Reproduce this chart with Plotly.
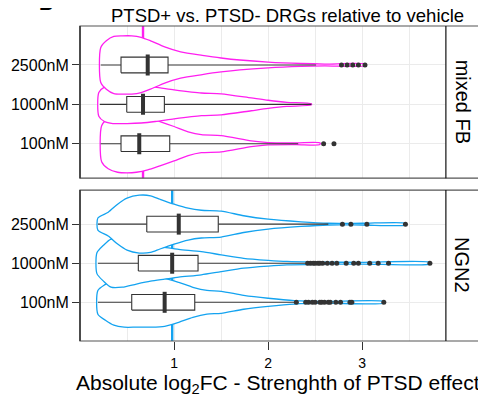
import plotly.graph_objects as go

doses = ["100nM", "1000nM", "2500nM"]
dose_pos = [1, 2, 3]

# box statistics (order: 100nM, 1000nM, 2500nM)
fb_q1 = [0.436, 0.497, 0.436]
fb_med = [0.63, 0.67, 0.72]
fb_q3 = [0.954, 0.897, 0.936]
fb_lo = [0.22, 0.21, 0.22]
fb_hi = [2.32, 2.46, 2.51]
fb_out_100 = [2.59, 2.70]
fb_out_1000 = []
fb_out_2500 = [2.78, 2.84, 2.90, 2.96, 3.03]

ngn_q1 = [0.55, 0.62, 0.71]
ngn_med = [0.90, 0.98, 1.05]
ngn_q3 = [1.22, 1.255, 1.47]
ngn_lo = [0.19, 0.19, 0.19]
ngn_hi = [2.28, 2.40, 2.64]
ngn_out_100 = [2.30, 2.40, 2.43, 2.47, 2.50, 2.55, 2.57, 2.60, 2.64, 2.66,
               2.72, 2.77, 2.87, 2.89, 3.23]
ngn_out_1000 = [2.42, 2.45, 2.48, 2.50, 2.53, 2.55, 2.58, 2.63, 2.68, 2.73,
                2.83, 2.91, 2.96, 3.08, 3.17, 3.28, 3.72]
ngn_out_2500 = [2.79, 2.88, 3.05, 3.46]

# reference lines (vehicle)
fb_ref = 0.67
ngn_ref = 0.98

# violin profiles: x and relative density
fb_v100_x = [0.23, 0.3, 0.4, 0.5, 0.6, 0.72, 0.85, 1.0, 1.15, 1.29, 1.5, 1.82, 2.0, 2.3, 2.55]
fb_v100_d = [0.62, 0.86, 0.98, 1, 0.98, 0.90, 0.76, 0.59, 0.41, 0.31, 0.28, 0.10, 0.04, 0.03, 0.03]
fb_v1000_x = [0.20, 0.26, 0.35, 0.5, 0.65, 0.8, 1.0, 1.29, 1.5, 1.82, 2.0, 2.2, 2.46]
fb_v1000_d = [0.41, 0.59, 0.66, 0.66, 0.64, 0.59, 0.50, 0.39, 0.36, 0.22, 0.14, 0.07, 0.02]
fb_v2500_x = [0.22, 0.28, 0.36, 0.45, 0.55, 0.65, 0.75, 0.9, 1.07, 1.3, 1.5, 1.7, 2.0, 2.35, 2.6, 3.03]
fb_v2500_d = [0.59, 0.83, 0.98, 1, 1, 0.95, 0.83, 0.62, 0.45, 0.33, 0.24, 0.17, 0.10, 0.05, 0.03, 0.03]

ngn_v100_x = [0.19, 0.27, 0.36, 0.47, 0.6, 0.75, 0.9, 1.05, 1.2, 1.35, 1.5, 1.74, 2.0, 2.28, 2.6, 3.23]
ngn_v100_d = [0.41, 0.62, 0.79, 0.86, 0.86, 0.86, 0.83, 0.69, 0.52, 0.41, 0.38, 0.24, 0.14, 0.06, 0.03, 0.03]
ngn_v1000_x = [0.18, 0.25, 0.33, 0.45, 0.6, 0.75, 0.9, 1.05, 1.29, 1.5, 1.74, 2.0, 2.2, 2.5, 3.0, 3.72]
ngn_v1000_d = [0.36, 0.62, 0.83, 0.83, 0.72, 0.62, 0.55, 0.48, 0.40, 0.29, 0.17, 0.10, 0.06, 0.04, 0.03, 0.03]
ngn_v2500_x = [0.19, 0.3, 0.4, 0.5, 0.63, 0.75, 0.85, 1.0, 1.15, 1.29, 1.5, 1.74, 2.0, 2.35, 2.64, 3.0, 3.46]
ngn_v2500_d = [0.21, 0.41, 0.69, 0.90, 1, 0.98, 0.86, 0.69, 0.55, 0.48, 0.45, 0.29, 0.17, 0.08, 0.03, 0.03, 0.03]

MAGENTA = "#ff1ff0"
BLUE = "#14a3f0"
DARK = "#333333"
GRID = "#ebebeb"
FONT = "Liberation Sans, Arial, sans-serif"
VW = 0.74   # violin half width at max density
BW = 0.2    # box half height

fig = go.Figure()


def add_panel(xa, ya, color, ref, violins, q1, med, q3, lo, hi, outs):
    fig.add_shape(type="line", xref=xa, yref=ya + " domain", x0=ref, x1=ref,
                  y0=0, y1=1, line=dict(color=color, width=2.4), layer="below")
    for pos, (vx, vd) in zip(dose_pos, violins):
        up = [pos + VW * d for d in vd]
        dn = [pos - VW * d for d in vd]
        fig.add_trace(go.Scatter(
            x=vx + vx[::-1] + [vx[0]],
            y=up + dn[::-1] + [up[0]],
            mode="lines", fill="toself", fillcolor="white",
            line=dict(color=color, width=1.3, shape="spline", smoothing=0.7),
            xaxis=xa, yaxis=ya, hoverinfo="skip"))
    # boxplots (drawn as scatter so they stay above the violins)
    wx, wy, bx, by = [], [], [], []
    for p, a, b, c, d in zip(dose_pos, lo, q1, q3, hi):
        wx += [a, b, None, c, d, None]
        wy += [p, p, None, p, p, None]
        bx += [b, c, c, b, b, None]
        by += [p - BW, p - BW, p + BW, p + BW, p - BW, None]
    fig.add_trace(go.Scatter(x=wx, y=wy, mode="lines", line=dict(color=DARK, width=1.1),
                             xaxis=xa, yaxis=ya, hoverinfo="skip"))
    fig.add_trace(go.Scatter(x=bx, y=by, mode="lines", fill="toself", fillcolor="white",
                             line=dict(color=DARK, width=1.1),
                             xaxis=xa, yaxis=ya, hoverinfo="skip"))
    fig.add_trace(go.Scatter(
        x=med, y=dose_pos, mode="markers",
        marker=dict(symbol="line-ns-open", size=15, color=DARK,
                    line=dict(color=DARK, width=4)),
        xaxis=xa, yaxis=ya, hoverinfo="skip"))
    ox, oy = [], []
    for pos, o in zip(dose_pos, outs):
        ox += o
        oy += [pos] * len(o)
    fig.add_trace(go.Scatter(
        x=ox, y=oy, mode="markers", marker=dict(color=DARK, size=5),
        xaxis=xa, yaxis=ya, hoverinfo="skip"))


add_panel("x2", "y2", MAGENTA, fb_ref,
          [(fb_v100_x, fb_v100_d), (fb_v1000_x, fb_v1000_d), (fb_v2500_x, fb_v2500_d)],
          fb_q1, fb_med, fb_q3, fb_lo, fb_hi, [fb_out_100, fb_out_1000, fb_out_2500])
add_panel("x", "y", BLUE, ngn_ref,
          [(ngn_v100_x, ngn_v100_d), (ngn_v1000_x, ngn_v1000_d), (ngn_v2500_x, ngn_v2500_d)],
          ngn_q1, ngn_med, ngn_q3, ngn_lo, ngn_hi, [ngn_out_100, ngn_out_1000, ngn_out_2500])

xdom = [0, 0.917]
top_dom = [0.517, 1]
bot_dom = [0, 0.479]
xcommon = dict(range=[0, 3.89], domain=xdom, showgrid=True, gridcolor=GRID, gridwidth=1,
               zeroline=False, showline=False, automargin=False,
               minor=dict(tickvals=[0.5, 1.5, 2.5, 3.5], showgrid=True, gridcolor=GRID, gridwidth=1))
ycommon = dict(tickvals=dose_pos, ticktext=doses, showgrid=True, gridcolor=GRID,
               zeroline=False, showline=False, ticks="outside", ticklen=7, tickcolor=DARK,
               automargin=False, tickfont=dict(size=16, color="black"))

# the page body adds an 8px offset, so the figure is 8px smaller than the window
fig.update_layout(
    width=478, height=393,
    margin=dict(l=72, r=7, t=18, b=60),
    paper_bgcolor="white", plot_bgcolor="white",
    font=dict(family=FONT, color="black"),
    showlegend=False,
    xaxis=dict(anchor="y", tickvals=[1, 2, 3], ticks="outside", ticklen=8, tickcolor=DARK,
               ticklabelstandoff=1, tickfont=dict(size=14, color="black"), **xcommon),
    xaxis2=dict(anchor="y2", matches="x", showticklabels=False, ticks="", **xcommon),
    yaxis=dict(domain=bot_dom, range=[0.01, 3.87], anchor="x", **ycommon),
    yaxis2=dict(domain=top_dom, range=[0.125, 3.99], anchor="x2", **ycommon),
)

# panel borders and strips
for dom, label in [(top_dom, "mixed FB"), (bot_dom, "NGN2")]:
    fig.add_shape(type="rect", xref="paper", yref="paper", x0=0, x1=1, y0=dom[0], y1=dom[1],
                  line=dict(color="#555555", width=1.2), layer="above")
    fig.add_shape(type="line", xref="paper", yref="paper", x0=0, x1=0, y0=dom[0], y1=dom[1],
                  line=dict(color=DARK, width=1.5), layer="above")
    fig.add_shape(type="line", xref="paper", yref="paper", x0=xdom[1], x1=xdom[1],
                  y0=dom[0], y1=dom[1], line=dict(color="#111111", width=1.2), layer="above")
    fig.add_annotation(text=label, xref="paper", yref="paper", x=(xdom[1] + 1) / 2,
                       y=(dom[0] + dom[1]) / 2, textangle=90, showarrow=False,
                       font=dict(size=20, color="black"), xanchor="center", yanchor="middle")

fig.add_annotation(text="PTSD+ vs. PTSD- DRGs relative to vehicle", xref="paper", yref="paper",
                   x=0.52, y=1.034, showarrow=False, font=dict(size=18.5),
                   xanchor="center", yanchor="middle")
fig.add_annotation(text="Absolute log<sub>2</sub>FC - Strenghth of PTSD effect",
                   xref="paper", yref="paper", x=0.495, y=-0.138, showarrow=False,
                   font=dict(size=21), xanchor="center", yanchor="middle")
fig.add_annotation(text="<b>B</b>", xref="paper", yref="paper", x=-0.084, y=1.032,
                   showarrow=False, font=dict(size=20), xanchor="center", yanchor="bottom")

fig.write_html("out.html")
